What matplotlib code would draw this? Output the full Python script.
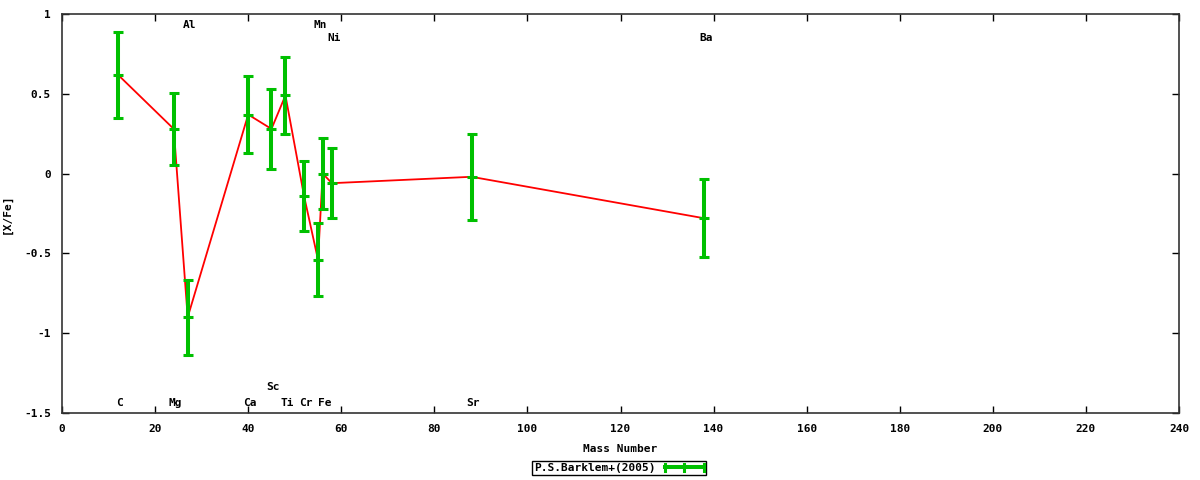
import numpy as np
import matplotlib.pyplot as plt
from matplotlib.legend_handler import HandlerBase
from matplotlib.lines import Line2D

# abundance ratios
elements = ['C', 'Mg', 'Al', 'Ca', 'Sc', 'Ti', 'Cr', 'Mn', 'Fe', 'Ni', 'Sr', 'Ba']
mass = [12, 24, 27, 40, 45, 48, 52, 55, 56, 58, 88, 138]
x_fe = [0.62, 0.28, -0.90, 0.37, 0.28, 0.49, -0.14, -0.54, 0.00, -0.06, -0.02, -0.28]
err = [0.27, 0.225, 0.235, 0.24, 0.25, 0.24, 0.22, 0.23, 0.22, 0.22, 0.27, 0.245]
# y position of each element name
label_y = [-1.44, -1.44, 0.93, -1.44, -1.34, -1.44, -1.44, 0.93, -1.44, 0.85, -1.44, 0.85]

font = 'DejaVu Sans Mono'
green = '#00c000'


class GnuErrorbarKey(HandlerBase):
    # gnuplot style key sample: horizontal bar with end caps and a middle tick
    def create_artists(self, legend, orig_handle, xdescent, ydescent,
                       width, height, fontsize, trans):
        y = height / 2 - ydescent
        h = height * 0.45
        arts = [Line2D([-xdescent, width - xdescent], [y, y], color=green, lw=2.9)]
        for xx in (-xdescent, width / 2 - xdescent, width - xdescent):
            arts.append(Line2D([xx, xx], [y - h, y + h], color=green, lw=2.2))
        for a in arts:
            a.set_transform(trans)
        return arts


fig = plt.figure(figsize=(12, 4.8), dpi=100)
ax = fig.add_axes([0.0517, 0.1396, 0.9308, 0.8312])

ax.plot(mass, x_fe, color='red', lw=1.3, zorder=2)
eb = ax.errorbar(mass, x_fe, yerr=err, fmt='_', color=green, ecolor=green,
                 elinewidth=2.9, capsize=3.4, capthick=2.2, markersize=6.8, mew=2.2,
                 label='P.S.Barklem+(2005)', zorder=3)

for name, m, y in zip(elements, mass, label_y):
    ax.text(m + 0.4, y, name, ha='center', va='center', fontsize=8,
            fontweight='bold', family=font)

ax.set_xlim(0, 240)
ax.set_ylim(-1.5, 1)
ax.set_xticks(np.arange(0, 241, 20))
ax.set_yticks([-1.5, -1, -0.5, 0, 0.5, 1])
ax.set_yticklabels(['-1.5', '-1', '-0.5', '0', '0.5', '1'])
ax.tick_params(direction='in', top=True, right=True, length=5, width=1, labelsize=8)
for lab in ax.get_xticklabels() + ax.get_yticklabels():
    lab.set_family(font)
    lab.set_fontweight('bold')
ax.tick_params(axis='x', pad=8)
ax.tick_params(axis='y', pad=8)
for s in ax.spines.values():
    s.set_linewidth(1.2)
    s.set_color('#333333')

ax.set_xlabel('Mass Number', fontsize=8, fontweight='bold', family=font, labelpad=7)
ax.set_ylabel('[X/Fe]', fontsize=8, fontweight='bold', family=font)
ax.yaxis.set_label_coords(-0.0448, 0.5)

leg = fig.legend(handles=[eb], loc='center', bbox_to_anchor=(0.516, 0.025),
                 handler_map={type(eb): GnuErrorbarKey()},
                 fancybox=False, framealpha=1, edgecolor='black',
                 prop={'family': font, 'weight': 'bold', 'size': 8},
                 markerfirst=False, borderpad=0.2, handlelength=3.5,
                 handletextpad=0.8)
leg.get_frame().set_linewidth(1.0)

fig.savefig('out.png', dpi=100)
